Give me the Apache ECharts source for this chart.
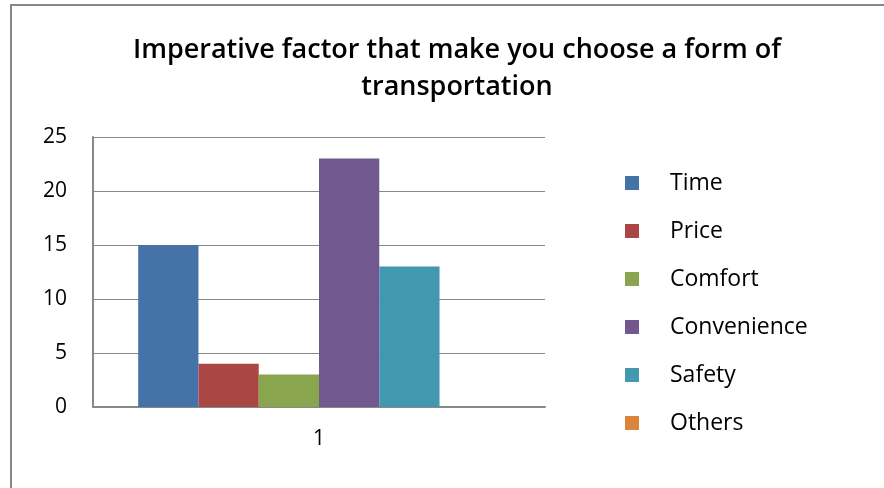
<!DOCTYPE html>
<html>
<head>
<meta charset="utf-8">
<script src="https://cdn.jsdelivr.net/npm/echarts@6/dist/echarts.min.js"></script>
<style>
html,body{margin:0;padding:0;background:#fff;}
#chart{width:884px;height:488px;}
</style>
</head>
<body>
<div id="chart"></div>
<script>
// Survey answers: which factor decides the form of transportation
const categories = ['1'];
const factorNames = ['Time', 'Price', 'Comfort', 'Convenience', 'Safety', 'Others'];
const factorValues = [15, 4, 3, 23, 13, 0];
const factorColors = ['#4572A7', '#AA4643', '#89A54E', '#71588F', '#4198AF', '#DB843D'];
const yTicks = { min: 0, max: 25, interval: 5 };

const fontFamily = '"Open Sans", "Liberation Sans", sans-serif';

const chart = echarts.init(document.getElementById('chart'));

const series = factorNames.map((name, i) => ({
  name: name,
  type: 'bar',
  data: [factorValues[i]],
  barGap: '0%',
  barCategoryGap: '20%',
  itemStyle: { color: factorColors[i] }
}));

chart.setOption({
  animation: false,
  backgroundColor: '#fff',
  color: factorColors,
  title: {
    text: 'Imperative factor that make you choose a form of\ntransportation',
    left: 452,
    textAlign: 'center',
    top: 27,
    textStyle: {
      fontFamily: fontFamily,
      fontSize: 27,
      fontWeight: 600,
      color: '#000',
      lineHeight: 37
    }
  },
  legend: {
    orient: 'vertical',
    left: 620,
    top: 166,
    itemWidth: 14,
    itemHeight: 14,
    itemGap: 24,
    icon: 'rect',
    textStyle: {
      fontFamily: fontFamily,
      fontSize: 23,
      color: '#000',
      lineHeight: 24,
      padding: [0, 0, 0, 26]
    },
    data: factorNames
  },
  grid: {
    left: 93,
    right: 339,
    top: 137,
    bottom: 81,
    containLabel: false
  },
  xAxis: {
    type: 'category',
    data: categories,
    axisLine: { lineStyle: { color: '#888', width: 2 } },
    axisTick: { show: false },
    axisLabel: {
      fontFamily: fontFamily,
      fontSize: 21,
      color: '#000',
      margin: 22
    }
  },
  yAxis: {
    type: 'value',
    min: yTicks.min,
    max: yTicks.max,
    interval: yTicks.interval,
    axisLine: { show: true, lineStyle: { color: '#888', width: 2 } },
    axisTick: { show: false },
    splitLine: { lineStyle: { color: '#888', width: 1 } },
    axisLabel: {
      fontFamily: fontFamily,
      fontSize: 21,
      color: '#000',
      margin: 26
    }
  },
  graphic: [{
    type: 'rect',
    shape: { x: 11, y: 5, width: 900, height: 520 },
    style: { fill: 'none', stroke: '#888', lineWidth: 2 },
    silent: true
  }],
  series: series
});
</script>
</body>
</html>
